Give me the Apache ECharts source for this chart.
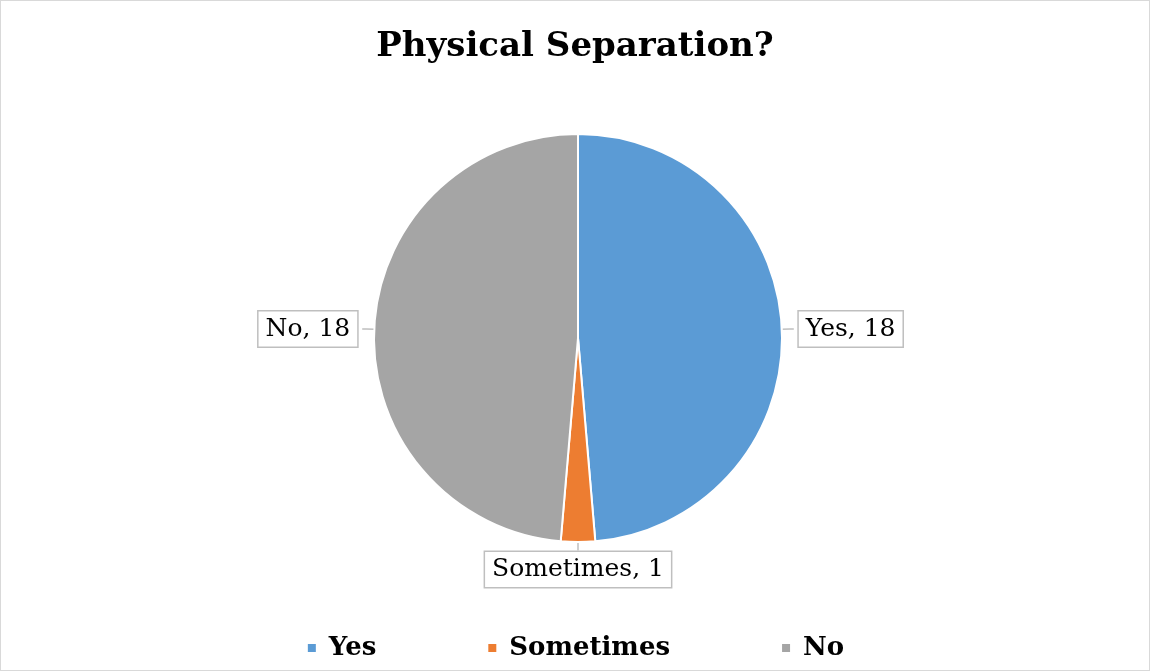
<!DOCTYPE html>
<html lang="en">
<head>
    <meta charset="UTF-8">
    <title>Physical Separation?</title>
    <style>
        html, body { margin: 0; padding: 0; background: #fff; }
        #main { width: 1150px; height: 671px; box-sizing: border-box; border: 1px solid #d9d9d9; }
    </style>
</head>
<body>
<div id="main"></div>
<script src="https://cdn.jsdelivr.net/npm/echarts@6/dist/echarts.min.js"></script>
<script>
    // 数据
    let categories = ['Yes', 'Sometimes', 'No'];
    let counts = [18, 1, 18];
    let colors = ['#5B9BD5', '#ED7D31', '#A5A5A5'];

    let font = '"DejaVu Serif", "Liberation Serif", serif';

    let myChart = echarts.init(document.getElementById('main'));
    let option = {
        animation: false,
        color: colors,
        title: {
            text: 'Physical Separation?',
            left: 'center',
            top: 24,
            textStyle: {fontFamily: font, fontSize: 34, fontWeight: 'bold', color: '#000'}
        },
        legend: {
            data: categories,
            bottom: 4,
            left: 'center',
            icon: 'rect',
            itemWidth: 10,
            itemHeight: 10,
            itemGap: 110,
            textStyle: {fontFamily: font, fontSize: 26, fontWeight: 'bold', color: '#000', padding: [0, 0, 0, 7]}
        },
        series: [
            {
                type: 'pie',
                center: [577, 337],
                radius: 204,
                startAngle: 90,
                clockwise: true,
                avoidLabelOverlap: false,
                itemStyle: {borderColor: '#fff', borderWidth: 2},
                label: {
                    show: true,
                    position: 'outside',
                    formatter: '{b}, {c}',
                    fontFamily: font,
                    fontSize: 25,
                    color: '#000',
                    backgroundColor: '#fff',
                    borderColor: '#bfbfbf',
                    borderWidth: 1.5,
                    padding: [5, 7, 5, 7]
                },
                labelLine: {
                    show: true,
                    length: 8,
                    length2: 4,
                    lineStyle: {color: '#bfbfbf', width: 1.5}
                },
                labelLayout: function (params) {
                    if (params.dataIndex === 1) {
                        return {align: 'center', verticalAlign: 'top', x: params.labelLinePoints[1][0], y: params.labelLinePoints[1][1] + 2};
                    }
                },
                data: categories.map((name, i) => ({name: name, value: counts[i]}))
            }
        ]
    };
    myChart.setOption(option);
</script>
</body>
</html>
